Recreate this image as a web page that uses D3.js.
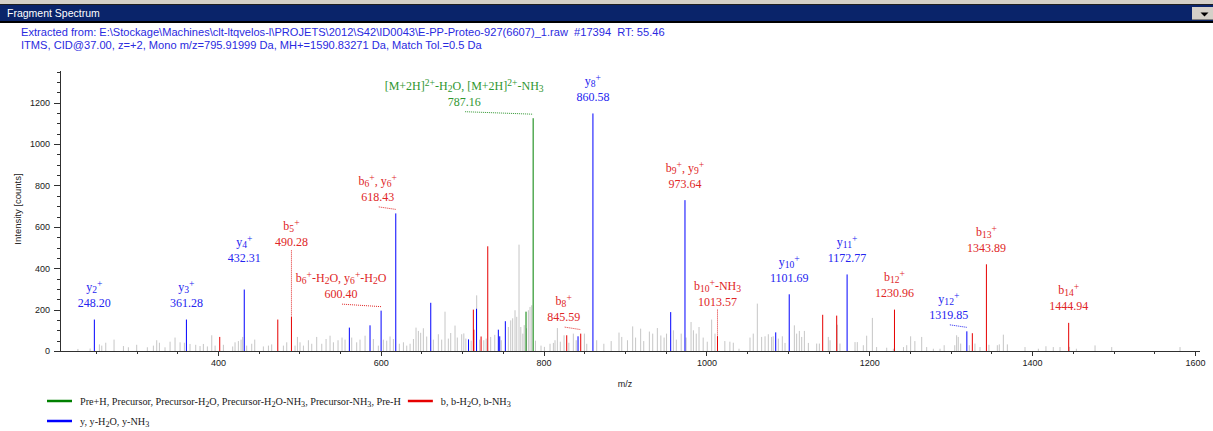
<!DOCTYPE html>
<html>
<head>
<meta charset="utf-8">
<script src="https://cdn.jsdelivr.net/npm/d3@7/dist/d3.min.js"></script>
<style>
  html, body { margin: 0; padding: 0; background: #ffffff; }
  svg { display: block; }
  .hdr { white-space: pre; }
</style>
</head>
<body>
<svg id="chart" width="1213" height="431"></svg>
<script>
// ---------------- data ----------------
const panelTitle = "Fragment Spectrum";
const headerLines = [
  "Extracted from: E:\\Stockage\\Machines\\clt-ltqvelos-l\\PROJETS\\2012\\S42\\ID0043\\E-PP-Proteo-927(6607)_1.raw  #17394  RT: 55.46",
  "ITMS, CID@37.00, z=+2, Mono m/z=795.91999 Da, MH+=1590.83271 Da, Match Tol.=0.5 Da"
];
const xTitle = "m/z";
const yTitle = "Intensity [counts]";
const xMajorTicks = [400, 600, 800, 1000, 1200, 1400, 1600];
const yMajorTicks = [0, 200, 400, 600, 800, 1000, 1200];

// [m/z, intensity] — precursor-related ions
const precursorPeaks = [[778.4, 190], [787.16, 1125]];
// b-type ions
const bPeaks = [
  [402.2, 68], [473.5, 152], [490.28, 165], [713.7, 200], [714.3, 103], [723.2, 70],
  [731.4, 506], [828.4, 76], [845.59, 84], [1013.57, 72], [1142.8, 175], [1160.0, 171],
  [1230.96, 200], [1326.6, 86], [1343.89, 419], [1444.94, 136]
];
// y-type ions
const yPeaks = [
  [248.20, 152], [361.28, 152], [432.31, 297], [561.4, 113], [586.8, 124], [600.40, 195],
  [618.43, 665], [661.4, 233], [707.8, 56], [717.6, 204], [744.4, 103], [746.1, 71],
  [753.0, 144], [842.3, 71], [860.58, 1148], [956.1, 188], [973.64, 729], [1085.1, 90],
  [1101.69, 274], [1172.77, 370], [1319.85, 95]
];
// unassigned peaks
const otherPeaks = [
  [228.0, 10], [243.0, 12], [254.4, 32], [257.3, 26], [262.2, 40], [272.4, 55], [283.9, 24],
  [290.0, 18], [300.2, 30], [313.3, 18], [320.7, 26], [324.8, 52], [328.1, 40], [335.0, 18],
  [341.2, 45], [347.3, 65], [353.5, 42], [358.8, 40], [365.7, 34], [372.7, 30], [378.0, 24],
  [382.1, 34], [387.0, 22], [392.4, 76], [396.5, 26], [406.7, 30], [418.1, 22], [421.0, 42],
  [425.1, 48], [428.4, 55], [430.4, 68], [435.3, 26], [441.5, 35], [445.2, 55], [455.8, 22],
  [462.0, 26], [466.0, 32], [480.4, 26], [484.5, 42], [494.7, 26], [497.6, 68], [500.8, 42],
  [505.0, 26], [511.1, 52], [515.2, 35], [521.3, 68], [527.5, 35], [532.8, 58], [537.7, 74],
  [541.8, 42], [547.5, 52], [552.4, 65], [556.1, 55], [564.3, 65], [570.4, 42], [574.5, 55],
  [580.7, 74], [590.9, 58], [597.0, 26], [603.2, 55], [607.3, 50], [611.4, 70], [615.5, 58],
  [622.8, 35], [627.8, 42], [631.9, 26], [636.0, 35], [640.1, 58], [643.3, 113], [646.2, 97],
  [649.0, 88], [652.3, 110], [656.4, 70], [664.6, 55], [670.7, 81], [674.8, 55], [678.9, 190],
  [683.0, 60], [685.9, 87], [691.2, 123], [694.0, 65], [699.4, 81], [702.0, 85], [704.5, 60],
  [711.0, 50], [717.8, 269], [721.5, 55], [726.5, 52], [729.5, 60], [735.0, 68], [740.0, 78],
  [748.0, 52], [756.7, 116], [759.6, 148], [762.0, 158], [764.9, 197], [767.0, 165],
  [769.8, 514], [772.0, 116], [774.5, 84], [776.2, 125], [779.0, 110], [781.3, 197],
  [783.3, 213], [785.4, 221], [790.0, 50], [796.8, 26], [801.0, 20], [807.9, 35], [812.0, 39],
  [814.0, 52], [816.9, 111], [820.5, 45], [825.1, 76], [831.0, 40], [836.5, 84], [840.0, 52],
  [850.1, 84], [853.0, 35], [865.2, 52], [874.0, 35], [883.0, 48], [892.6, 89], [896.0, 68],
  [903.0, 52], [909.4, 119], [913.0, 65], [919.2, 108], [923.0, 48], [929.9, 94], [934.0, 84],
  [939.7, 111], [944.0, 75], [948.0, 65], [951.0, 84], [959.4, 100], [963.0, 55], [969.0, 84],
  [975.0, 65], [981.1, 140], [984.0, 100], [987.5, 84], [990.9, 116], [996.0, 65],
  [1001.0, 45], [1006.4, 152], [1010.5, 84], [1022.6, 48], [1028.8, 45], [1033.0, 40],
  [1040.0, 11], [1053.5, 65], [1057.5, 84], [1062.5, 229], [1067.8, 68], [1072.0, 71],
  [1076.0, 81], [1080.0, 68], [1082.0, 71], [1088.3, 60], [1093.2, 71], [1096.5, 39],
  [1108.0, 124], [1110.8, 84], [1114.1, 97], [1117.0, 68], [1120.3, 97], [1125.2, 39],
  [1135.4, 36], [1138.7, 36], [1149.7, 68], [1151.8, 52], [1160.8, 127], [1164.0, 36],
  [1182.5, 43], [1185.3, 43], [1192.7, 28], [1196.8, 74], [1203.8, 160], [1209.0, 19],
  [1221.4, 16], [1229.6, 11], [1242.0, 19], [1246.0, 28], [1250.8, 71], [1256.0, 48],
  [1264.4, 68], [1270.5, 19], [1278.7, 11], [1286.9, 11], [1292.0, 28], [1305.0, 28],
  [1307.3, 76], [1309.3, 68], [1312.3, 36], [1322.9, 28], [1329.8, 36], [1336.0, 19],
  [1347.0, 30], [1357.3, 28], [1359.7, 32], [1364.7, 79], [1369.6, 32], [1391.3, 19],
  [1407.7, 11], [1417.0, 23], [1426.0, 19], [1434.3, 19], [1446.0, 20], [1454.4, 11],
  [1477.3, 27], [1497.8, 19], [1581.7, 19]
];

// peak annotations: m/z of the annotated peak, ion label, label colour family
const annotations = [
  { mz: 248.20,  ion: "y_{2}^{+}", kind: "y" },
  { mz: 361.28,  ion: "y_{3}^{+}", kind: "y" },
  { mz: 432.31,  ion: "y_{4}^{+}", kind: "y" },
  { mz: 490.28,  ion: "b_{5}^{+}", kind: "b" },
  { mz: 600.40,  ion: "b_{6}^{+}-H_{2}O, y_{6}^{+}-H_{2}O", kind: "b" },
  { mz: 618.43,  ion: "b_{6}^{+}, y_{6}^{+}", kind: "b" },
  { mz: 787.16,  ion: "[M+2H]^{2+}-H_{2}O, [M+2H]^{2+}-NH_{3}", kind: "pre" },
  { mz: 845.59,  ion: "b_{8}^{+}", kind: "b" },
  { mz: 860.58,  ion: "y_{8}^{+}", kind: "y" },
  { mz: 973.64,  ion: "b_{9}^{+}, y_{9}^{+}", kind: "b" },
  { mz: 1013.57, ion: "b_{10}^{+}-NH_{3}", kind: "b" },
  { mz: 1101.69, ion: "y_{10}^{+}", kind: "y" },
  { mz: 1172.77, ion: "y_{11}^{+}", kind: "y" },
  { mz: 1230.96, ion: "b_{12}^{+}", kind: "b" },
  { mz: 1319.85, ion: "y_{12}^{+}", kind: "y" },
  { mz: 1343.89, ion: "b_{13}^{+}", kind: "b" },
  { mz: 1444.94, ion: "b_{14}^{+}", kind: "b" }
];

const legendItems = [
  { kind: "pre", text: "Pre+H, Precursor, Precursor-H_{2}O, Precursor-H_{2}O-NH_{3}, Precursor-NH_{3}, Pre-H" },
  { kind: "b",   text: "b, b-H_{2}O, b-NH_{3}" },
  { kind: "y",   text: "y, y-H_{2}O, y-NH_{3}" }
];

// ---------------- styling / layout ----------------
const W = 1213, H = 431;
const plot = { left: 60, right: 1199, top: 70, bottom: 351 };
const barColor  = { pre: "#008000", b: "#e60000", y: "#0000ff", other: "#c6c6c6" };
const textColor = { pre: "#2f962f", b: "#e02626", y: "#2424f0" };
const serif = "'Liberation Serif', 'Times New Roman', serif";
const sans  = "'Liberation Sans', Arial, sans-serif";

// label placement tweaks (pixels): horizontal shift, extra lift, leader type
const labelLayout = {
  "432.31":  { lift: 15 },
  "490.28":  { lift: 58, leader: "vertical" },
  "600.40":  { dx: -40, leader: "elbow" },
  "618.43":  { dx: -18, leader: "elbow" },
  "787.16":  { dx: -69, leader: "elbow" },
  "845.59":  { dx: -17, leader: "elbow" },
  "1013.57": { lift: 18, leader: "vertical" },
  "1319.85": { dx: -18, leader: "elbow" }
};

const svg = d3.select("#chart");

// ---------------- window chrome ----------------
svg.append("rect").attr("x", 0).attr("y", 0).attr("width", W).attr("height", 5).attr("fill", "#d4d0c8");
svg.append("rect").attr("x", 0).attr("y", 4).attr("width", W).attr("height", 1).attr("fill", "#202020");
svg.append("rect").attr("x", 0).attr("y", 5).attr("width", W).attr("height", 16).attr("fill", "#0a246a");
svg.append("rect").attr("x", 0).attr("y", 21).attr("width", W).attr("height", 2).attr("fill", "#000000");
svg.append("text").attr("x", 7).attr("y", 17).attr("fill", "#ffffff")
  .attr("font-family", sans).attr("font-size", 10.5).text(panelTitle);
const btn = svg.append("g");
btn.append("rect").attr("x", 1192).attr("y", 7).attr("width", 21).attr("height", 13).attr("fill", "#d4d0c8");
btn.append("rect").attr("x", 1192).attr("y", 19).attr("width", 21).attr("height", 1).attr("fill", "#808080");
btn.append("path").attr("d", "M1200.5,12.5 L1208.5,12.5 L1204.5,16.5 Z").attr("fill", "#000000");

// header lines
headerLines.forEach((t, i) => {
  svg.append("text").attr("class", "hdr")
    .attr("x", 21).attr("y", 36 + i * 12.5)
    .attr("fill", "#2a2ae0").attr("font-family", sans).attr("font-size", 11.1)
    .text(t);
});

// ---------------- scales ----------------
const x = d3.scaleLinear().domain([206, 1605]).range([plot.left, plot.right]);
const y = d3.scaleLinear().domain([0, 1358]).range([plot.bottom, plot.top]);

// ---------------- axes ----------------
const xMinor = d3.range(250, 1601, 50);
const yMinor = d3.range(0, 1351, 50);

const axes = svg.append("g").attr("shape-rendering", "crispEdges");
const xAxisG = axes.append("g").attr("transform", `translate(0,${plot.bottom})`);
xAxisG.append("g").call(d3.axisBottom(x).tickValues(xMinor).tickSize(3).tickFormat("").tickSizeOuter(0));
xAxisG.append("g").call(d3.axisBottom(x).tickValues(xMajorTicks).tickSize(5).tickPadding(4).tickSizeOuter(0).tickFormat(d3.format("d")));
const yAxisG = axes.append("g").attr("transform", `translate(${plot.left},0)`);
yAxisG.append("g").call(d3.axisLeft(y).tickValues(yMinor).tickSize(3).tickFormat("").tickSizeOuter(0));
yAxisG.append("g").call(d3.axisLeft(y).tickValues(yMajorTicks).tickSize(6).tickPadding(4).tickSizeOuter(0).tickFormat(d3.format("d")));

axes.selectAll(".domain").attr("stroke", "#303030");
axes.selectAll(".tick line").attr("stroke", "#303030");
axes.selectAll(".tick text").attr("font-family", sans).attr("font-size", 9).attr("fill", "#202020");

svg.append("text").attr("x", 625).attr("y", 387).attr("text-anchor", "middle")
  .attr("font-family", sans).attr("font-size", 9).attr("fill", "#202020").text(xTitle);
svg.append("text").attr("transform", "translate(21,209) rotate(-90)").attr("text-anchor", "middle")
  .attr("font-family", sans).attr("font-size", 9.5).attr("fill", "#202020").text(yTitle);

// ---------------- peaks (stick spectrum) ----------------
const bars = svg.append("g");
function drawPeaks(data, kind) {
  bars.append("g").selectAll("line").data(data).join("line")
    .attr("x1", d => x(d[0])).attr("x2", d => x(d[0]))
    .attr("y1", y(0)).attr("y2", d => y(d[1]))
    .attr("stroke", barColor[kind]).attr("stroke-width", 1);
}
drawPeaks(otherPeaks, "other");
drawPeaks(precursorPeaks, "pre");
drawPeaks(bPeaks, "b");
drawPeaks(yPeaks, "y");

// ---------------- rich text helper (sub/superscripts) ----------------
function richText(sel, str, size) {
  sel.selectAll("tspan").remove();
  const re = /([_^])\{([^}]*)\}/g;
  let last = 0, m;
  while ((m = re.exec(str))) {
    if (m.index > last) sel.append("tspan").text(str.slice(last, m.index));
    sel.append("tspan")
      .attr("font-size", size * 0.8)
      .attr("baseline-shift", m[1] === "_" ? -size * 0.2 : size * 0.36)
      .text(m[2]);
    last = re.lastIndex;
  }
  if (last < str.length) sel.append("tspan").text(str.slice(last));
  return sel;
}

// ---------------- annotations ----------------
const allPeaks = [...precursorPeaks, ...bPeaks, ...yPeaks];
const labels = svg.append("g").attr("font-family", serif).attr("font-size", 12);
annotations.forEach(a => {
  const peak = allPeaks.find(p => Math.abs(p[0] - a.mz) < 0.005);
  const key = a.mz.toFixed(2);
  const lay = labelLayout[key] || {};
  const bx = x(a.mz), top = y(peak[1]);
  const cx = bx + (lay.dx || 0);
  const base = top - 12.5 - (lay.lift || 0);
  const col = textColor[a.kind];
  labels.append("text").attr("x", cx).attr("y", base).attr("text-anchor", "middle")
    .attr("fill", col).text(key);
  richText(labels.append("text").attr("x", cx).attr("y", base - 16).attr("text-anchor", "middle")
    .attr("fill", col), a.ion, 12);
  if (lay.leader === "vertical") {
    labels.append("line").attr("x1", bx).attr("x2", bx).attr("y1", base + 4).attr("y2", top)
      .attr("stroke", col).attr("stroke-width", 1).attr("stroke-dasharray", "1,1");
  } else if (lay.leader === "elbow") {
    labels.append("line").attr("x1", cx + 1).attr("x2", bx).attr("y1", base + 6).attr("y2", top - 4)
      .attr("stroke", col).attr("stroke-width", 1).attr("stroke-dasharray", "1,1");
  }
});

// ---------------- legend ----------------
// first row holds two entries side by side; the first entry's text is fitted to its slot width
const legendRow = [401, 421];
const legendX = 47, firstTextWidth = 321, entryGap = 7;
const legend = svg.append("g").attr("font-family", serif).attr("fill", "#202020");

function legendEntry(item, lx, ly, size) {
  const g = legend.append("g");
  g.append("line").attr("x1", lx).attr("x2", lx + 25).attr("y1", ly).attr("y2", ly)
    .attr("stroke", barColor[item.kind]).attr("stroke-width", 2.5);
  const t = g.append("text").attr("x", lx + 33).attr("y", ly + 4).attr("font-size", size);
  richText(t, item.text, size);
  return t;
}

let legendSize = 10.8;
const first = legendEntry(legendItems[0], legendX, legendRow[0], legendSize);
for (let k = 0; k < 3; k++) {
  const len = first.node().getComputedTextLength();
  legendSize = legendSize * firstTextWidth / len;
  first.attr("font-size", legendSize);
  richText(first, legendItems[0].text, legendSize);
}
const firstEnd = legendX + 33 + first.node().getComputedTextLength();
legendEntry(legendItems[1], firstEnd + entryGap, legendRow[0], legendSize);
legendEntry(legendItems[2], legendX, legendRow[1], legendSize);
</script>
</body>
</html>
